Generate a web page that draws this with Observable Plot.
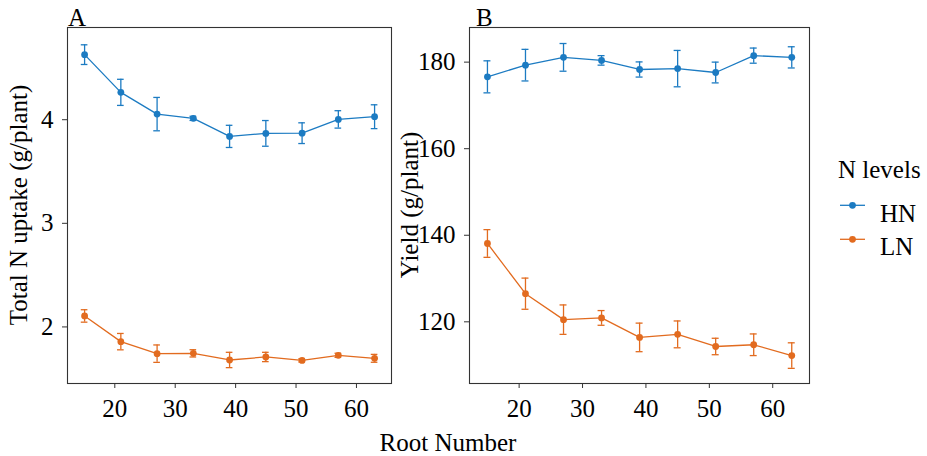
<!DOCTYPE html>
<html>
<head>
<meta charset="utf-8">
<script src="https://cdn.jsdelivr.net/npm/d3@7"></script>
<script src="https://cdn.jsdelivr.net/npm/@observablehq/plot@0.6"></script>
<style>
  html, body { margin: 0; padding: 0; background: #ffffff; }
  #chart { position: relative; width: 927px; height: 456px; background: #ffffff; font-family: "Liberation Serif", "Times New Roman", serif; }
  #chart > svg { position: absolute; top: 0; }
  #chart svg text { font-family: "Liberation Serif", "Times New Roman", serif; }
</style>
</head>
<body>
<div id="chart"></div>
<script>
// ---- data ----
const rootNumber = [15, 21, 27, 33, 39, 45, 51, 57, 63];
const levels = ["HN", "LN"];
const levelColors = ["#1c7bc2", "#e26b1f"];

const uptakeHN    = [4.628, 4.264, 4.054, 4.013, 3.839, 3.868, 3.870, 4.003, 4.029];
const uptakeHNse  = [0.095, 0.126, 0.161, 0.020, 0.107, 0.124, 0.100, 0.084, 0.115];
const uptakeLN    = [2.106, 1.858, 1.742, 1.745, 1.681, 1.710, 1.677, 1.726, 1.697];
const uptakeLNse  = [0.060, 0.079, 0.084, 0.035, 0.074, 0.045, 0.015, 0.020, 0.038];

const yieldHN     = [176.6, 179.3, 181.1, 180.4, 178.3, 178.5, 177.6, 181.5, 181.1];
const yieldHNse   = [3.70, 3.65, 3.20, 1.10, 1.75, 4.20, 2.40, 1.75, 2.45];
const yieldLN     = [138.1, 126.5, 120.5, 120.9, 116.4, 117.1, 114.3, 114.7, 112.2];
const yieldLNse   = [3.20, 3.60, 3.40, 1.70, 3.30, 3.10, 1.90, 2.50, 2.95];

const xTicks = [20, 30, 40, 50, 60];
const uptakeTicks = [2, 3, 4];
const yieldTicks = [120, 140, 160, 180];

const xLabel = "Root Number";
const uptakeLabel = "Total N uptake (g/plant)";
const yieldLabel = "Yield (g/plant)";
const legendTitle = "N levels";

// ---- helpers ----
function rows(means, ses, level) {
  return rootNumber.map((x, i) => ({x, y: means[i], se: ses[i], level}));
}
const capHalf = 0.55;
const serif = "Liberation Serif";
const fontStyle = {fontFamily: "'Liberation Serif', serif", fontSize: "25px", color: "black", background: "transparent", overflow: "visible"};

function panel(data, opts) {
  return Plot.plot({
    width: opts.width, height: 456,
    marginLeft: opts.marginLeft, marginRight: opts.marginRight, marginTop: 27, marginBottom: 73,
    x: {domain: [12.17, 65.8]},
    y: {domain: opts.yDomain},
    color: {domain: levels, range: levelColors},
    style: fontStyle,
    marks: [
      Plot.frame({stroke: "#333333", strokeWidth: 1.1}),
      Plot.axisX({ticks: xTicks, tickFormat: d => String(d), tickSize: 5, tickPadding: 11, label: null, stroke: "#333333", fill: "black", fontFamily: serif, fontSize: 25}),
      Plot.axisY({ticks: opts.yTicks, tickFormat: d => String(d), tickSize: 5, tickPadding: 9, label: null, stroke: "#333333", fill: "black", fontFamily: serif, fontSize: 25}),
      Plot.line(data, {x: "x", y: "y", z: "level", stroke: "level", strokeWidth: 1.3}),
      Plot.ruleX(data, {x: "x", y1: d => d.y - d.se, y2: d => d.y + d.se, stroke: "level", strokeWidth: 1.3}),
      Plot.ruleY(data, {y: d => d.y - d.se, x1: d => d.x - capHalf, x2: d => d.x + capHalf, stroke: "level", strokeWidth: 1.3}),
      Plot.ruleY(data, {y: d => d.y + d.se, x1: d => d.x - capHalf, x2: d => d.x + capHalf, stroke: "level", strokeWidth: 1.3}),
      Plot.dot(data, {x: "x", y: "y", fill: "level", r: 3.4})
    ]
  });
}

const dataA = rows(uptakeHN, uptakeHNse, "HN").concat(rows(uptakeLN, uptakeLNse, "LN"));
const dataB = rows(yieldHN, yieldHNse, "HN").concat(rows(yieldLN, yieldLNse, "LN"));

const plotA = panel(dataA, {width: 400, marginLeft: 67, marginRight: 9, yDomain: [1.454, 4.89], yTicks: uptakeTicks});
const plotB = panel(dataB, {width: 420, marginLeft: 69, marginRight: 11, yDomain: [105.75, 188.0], yTicks: yieldTicks});

const chart = document.getElementById("chart");
plotA.style.left = "0px";
plotB.style.left = "400px";
chart.appendChild(plotA);
chart.appendChild(plotB);

function addText(svg, x, y, str, attrs) {
  const t = d3.select(svg).append("text")
    .attr("x", x).attr("y", y)
    .attr("font-family", "Liberation Serif, Times New Roman, serif")
    .attr("font-size", 25)
    .attr("fill", "black")
    .text(str);
  for (const k in (attrs || {})) t.attr(k, attrs[k]);
  return t;
}

// y-axis titles and panel tags
addText(plotA, 0, 0, uptakeLabel, {"text-anchor": "middle", transform: "translate(27,205) rotate(-90)"});
addText(plotA, 68, 26, "A", {"text-anchor": "start"});
addText(plotB, 0, 0, yieldLabel, {"text-anchor": "middle", transform: "translate(18,205) rotate(-90)"});
addText(plotB, 76, 26, "B", {"text-anchor": "start"});

// overlay: shared x title and legend
const overlay = d3.create("svg").attr("width", 927).attr("height", 456)
  .style("position", "absolute").style("left", "0px").style("top", "0px").style("overflow", "visible").node();
chart.appendChild(overlay);
addText(overlay, 448, 451, xLabel, {"text-anchor": "middle"});
addText(overlay, 838, 178, legendTitle);

const colorScale = plotA.scale("color");
const keyY = [205.3, 239.3];
const labelY = [221.7, 255];
levels.forEach((lv, i) => {
  const c = levelColors[colorScale.domain.indexOf(lv)];
  d3.select(overlay).append("line")
    .attr("x1", 840).attr("x2", 865).attr("y1", keyY[i]).attr("y2", keyY[i])
    .attr("stroke", c).attr("stroke-width", 1.3);
  d3.select(overlay).append("circle")
    .attr("cx", 852.5).attr("cy", keyY[i]).attr("r", 3.4).attr("fill", c);
  addText(overlay, 880, labelY[i], lv);
});
</script>
</body>
</html>
